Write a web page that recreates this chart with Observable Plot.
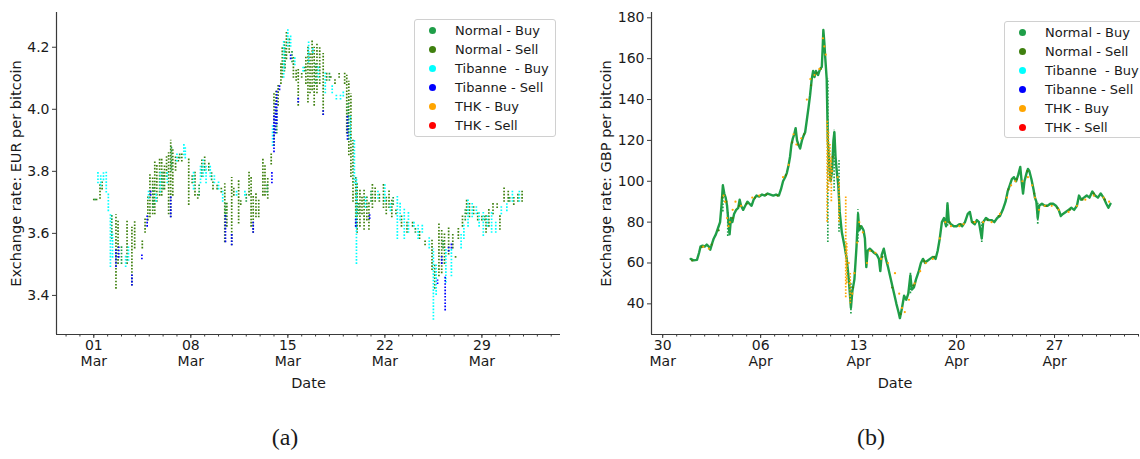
<!DOCTYPE html>
<html>
<head>
<meta charset="utf-8">
<script src="https://cdn.jsdelivr.net/npm/d3@7"></script>
<script src="https://cdn.jsdelivr.net/npm/@observablehq/plot@0.6"></script>
<style>
  body { margin: 0; background: #fff; }
  #wrap { position: relative; width: 1140px; height: 459px; overflow: hidden; font-family: "DejaVu Sans", sans-serif; color: #1a1a1a; }
  .panel { position: absolute; top: 0; }
  .legend { position: absolute; background: #fff; border: 1px solid #d0d0d0; border-radius: 3px; box-sizing: border-box; }
  .legend .row { position: absolute; left: 0; height: 19px; font-size: 13px; line-height: 19px; white-space: pre; }
  .legend .mk { position: absolute; width: 7px; height: 7px; border-radius: 50%; top: 6px; }
  .legend .lb { position: absolute; top: 0; }
  .cap { position: absolute; font-family: "Liberation Serif", "DejaVu Serif", serif; font-size: 24px; top: 424px; transform: translateX(-50%); }
</style>
</head>
<body>
<div id="wrap">
  <div id="pa" class="panel" style="left:0"></div>
  <div id="pb" class="panel" style="left:570px"></div>
  <div id="la" class="legend" style="left:414px;top:19px;width:142px;height:118px"></div>
  <div id="lb" class="legend" style="left:1004px;top:21px;width:150px;height:117px"></div>
  <div class="cap" style="left:285px">(a)</div>
  <div class="cap" style="left:871px">(b)</div>
</div>
<script>
// ---------- categories & colours ----------
const seriesNames = ["Normal - Buy", "Normal - Sell", "Tibanne  - Buy", "Tibanne - Sell", "THK - Buy", "THK - Sell"];
const seriesColors = ["#1f9e48", "#3f800f", "#00ffff", "#0000ff", "#ffa500", "#ff0000"];

// ---------- panel (a): EUR per bitcoin, columns [day since 01 Mar, low, high] ----------
const yTicksA = [3.4, 3.6, 3.8, 4.0, 4.2];
const normalSellA = [[0.0,3.705,3.715],[0.2,3.705,3.715],[0.45,3.71,3.76],[0.6,3.74,3.77],[1.6,3.42,3.66],[1.75,3.50,3.64],[2.4,3.50,3.64],[2.75,3.43,3.62],[2.95,3.55,3.64],[3.5,3.55,3.58],[3.7,3.60,3.65],[3.9,3.64,3.72],[4.05,3.65,3.79],[4.25,3.66,3.78],[4.4,3.66,3.83],[4.55,3.70,3.82],[4.75,3.72,3.84],[4.9,3.72,3.84],[5.1,3.74,3.82],[5.25,3.78,3.85],[5.4,3.66,3.86],[5.55,3.65,3.90],[5.7,3.72,3.87],[5.9,3.80,3.85],[6.1,3.83,3.85],[6.35,3.83,3.86],[6.85,3.69,3.84],[7.1,3.76,3.79],[7.3,3.72,3.80],[7.5,3.71,3.73],[7.8,3.78,3.84],[8.0,3.80,3.85],[8.3,3.80,3.83],[8.6,3.74,3.77],[8.9,3.74,3.76],[9.2,3.73,3.75],[9.45,3.57,3.76],[9.6,3.62,3.70],[9.95,3.56,3.78],[10.1,3.72,3.75],[10.45,3.63,3.77],[10.6,3.69,3.71],[11.2,3.72,3.80],[11.35,3.62,3.78],[11.5,3.60,3.72],[11.7,3.65,3.73],[11.9,3.65,3.71],[12.2,3.72,3.84],[12.35,3.72,3.82],[12.55,3.71,3.78],[12.8,3.82,3.86],[13.0,3.88,4.05],[13.15,3.95,4.06],[13.3,4.01,4.08],[13.5,4.08,4.15],[13.6,4.10,4.20],[13.75,4.12,4.22],[13.9,4.16,4.25],[14.1,4.18,4.23],[14.4,4.10,4.17],[14.6,4.09,4.13],[14.75,4.01,4.13],[15.0,4.10,4.12],[15.3,4.08,4.17],[15.45,4.02,4.20],[15.6,4.05,4.18],[15.75,4.06,4.22],[15.9,4.01,4.20],[16.1,4.05,4.21],[16.3,4.08,4.20],[16.55,3.98,4.18],[16.8,4.09,4.12],[17.1,4.10,4.11],[17.4,4.08,4.10],[17.7,4.10,4.12],[18.1,4.08,4.12],[18.25,3.92,4.11],[18.4,3.85,4.09],[18.55,3.78,4.05],[18.7,3.70,3.90],[18.9,3.62,3.78],[19.0,3.60,3.76],[19.2,3.62,3.74],[19.35,3.66,3.72],[19.5,3.61,3.74],[19.7,3.64,3.72],[19.85,3.61,3.70],[20.1,3.68,3.76],[20.3,3.70,3.75],[20.6,3.70,3.73],[20.9,3.68,3.76],[21.1,3.66,3.72],[21.3,3.68,3.74],[21.5,3.65,3.71],[21.8,3.66,3.68],[22.2,3.62,3.66],[22.6,3.60,3.64],[23.0,3.62,3.64],[23.5,3.58,3.61],[23.9,3.56,3.58],[24.4,3.48,3.58],[24.6,3.42,3.50],[24.9,3.46,3.63],[25.1,3.47,3.61],[25.3,3.50,3.60],[25.6,3.53,3.62],[25.9,3.55,3.60],[26.1,3.52,3.53],[26.3,3.58,3.62],[26.6,3.62,3.66],[26.9,3.66,3.71],[27.1,3.65,3.70],[27.4,3.66,3.69],[27.7,3.64,3.67],[28.0,3.64,3.66],[28.3,3.60,3.66],[28.5,3.62,3.68],[28.8,3.66,3.70],[29.1,3.68,3.70],[29.3,3.61,3.66],[29.6,3.70,3.75],[29.9,3.70,3.74],[30.3,3.69,3.72],[30.6,3.70,3.73],[30.9,3.70,3.74]];
const normalBuyA = [[0.1,3.705,3.715],[1.3,3.58,3.66],[2.0,3.50,3.56],[4.3,3.68,3.75],[5.0,3.74,3.80],[5.6,3.80,3.88],[6.2,3.84,3.86],[7.6,3.72,3.76],[8.5,3.77,3.80],[9.5,3.65,3.70],[11.0,3.70,3.73],[12.5,3.73,3.76],[13.2,3.92,4.00],[13.8,4.13,4.20],[14.3,4.15,4.19],[15.2,4.12,4.14],[16.0,4.08,4.15],[17.0,4.09,4.12],[18.35,3.90,4.02],[19.1,3.66,3.70],[20.0,3.70,3.74],[21.6,3.69,3.72],[23.2,3.60,3.62],[25.2,3.55,3.58],[26.8,3.64,3.68],[28.2,3.64,3.66],[30.0,3.70,3.72]];
const tibanneBuyA = [[0.3,3.76,3.80],[0.5,3.75,3.79],[0.7,3.77,3.80],[0.9,3.73,3.80],[1.05,3.67,3.73],[1.2,3.49,3.66],[1.35,3.52,3.60],[2.3,3.49,3.53],[2.5,3.51,3.56],[3.95,3.71,3.74],[4.5,3.70,3.73],[4.8,3.73,3.80],[5.3,3.76,3.80],[6.0,3.83,3.86],[6.5,3.85,3.89],[6.6,3.84,3.88],[7.2,3.74,3.80],[7.7,3.76,3.82],[7.9,3.78,3.84],[8.1,3.76,3.82],[8.4,3.78,3.82],[8.7,3.76,3.79],[9.0,3.74,3.77],[9.3,3.70,3.74],[10.3,3.72,3.74],[10.9,3.72,3.74],[12.9,3.88,3.95],[13.7,4.10,4.22],[14.0,4.20,4.26],[14.2,4.20,4.24],[14.5,4.14,4.17],[15.1,4.12,4.14],[15.5,4.15,4.22],[15.8,4.18,4.20],[16.2,4.10,4.14],[16.7,4.05,4.12],[17.2,4.05,4.08],[17.5,4.03,4.05],[17.8,4.03,4.05],[18.0,4.04,4.06],[18.5,3.90,3.98],[18.8,3.76,3.90],[18.95,3.50,3.78],[19.6,3.68,3.72],[20.5,3.71,3.74],[21.0,3.70,3.76],[21.4,3.67,3.70],[21.9,3.58,3.72],[22.1,3.64,3.70],[22.4,3.58,3.68],[22.7,3.60,3.67],[23.1,3.62,3.64],[23.4,3.58,3.63],[23.7,3.60,3.63],[24.2,3.55,3.59],[24.5,3.32,3.55],[24.7,3.40,3.50],[25.4,3.44,3.55],[25.8,3.46,3.55],[26.5,3.55,3.60],[26.7,3.58,3.63],[27.0,3.62,3.71],[27.3,3.65,3.70],[27.6,3.66,3.69],[27.8,3.62,3.67],[28.1,3.59,3.67],[28.4,3.62,3.66],[28.7,3.60,3.67],[29.0,3.60,3.64],[29.4,3.66,3.69],[29.8,3.67,3.70],[30.2,3.70,3.74],[30.7,3.70,3.74]];
const tibanneSellA = [[1.6,3.49,3.55],[1.8,3.52,3.56],[2.75,3.43,3.47],[3.47,3.515,3.53],[3.85,3.62,3.66],[4.1,3.72,3.74],[5.55,3.65,3.72],[9.5,3.57,3.66],[9.95,3.56,3.60],[11.5,3.60,3.64],[12.85,3.76,3.80],[13.0,3.86,3.98],[13.1,3.92,4.02],[13.2,3.95,4.06],[13.4,4.06,4.08],[14.2,4.16,4.175],[14.75,4.02,4.04],[16.55,3.98,4.00],[18.3,3.90,3.98],[18.9,3.62,3.65],[19.9,3.645,3.66],[24.8,3.435,3.45],[25.1,3.50,3.53],[25.35,3.35,3.46],[25.6,3.54,3.56],[25.8,3.55,3.57]];

// ---------- panel (b): GBP per bitcoin, [day since 30 Mar, value] ----------
const yTicksB = [40, 60, 80, 100, 120, 140, 160, 180];
const normalBuyB = [[2.0,62],[2.2,61.3],[2.45,61.5],[2.6,65],[2.7,68],[2.85,68.5],[3.0,68],[3.15,69],[3.3,68],[3.4,66.5],[3.55,70],[3.65,72],[3.8,74],[3.95,77],[4.1,80],[4.2,88],[4.3,98],[4.4,94],[4.5,92],[4.6,88],[4.7,80],[4.78,74],[4.88,82],[4.98,80],[5.1,84],[5.25,86],[5.4,87],[5.5,91],[5.6,88],[5.75,86],[5.9,88],[6.05,90],[6.2,89],[6.35,88],[6.5,91],[6.7,93],[6.9,92.5],[7.1,93.5],[7.3,93],[7.5,94],[7.7,93.5],[7.9,93],[8.1,93.5],[8.3,93],[8.45,96],[8.6,100],[8.75,102],[8.87,104],[9.0,108],[9.1,112],[9.2,118],[9.3,121],[9.4,123],[9.5,126],[9.6,120],[9.7,118],[9.82,116],[9.95,120],[10.05,122],[10.18,124],[10.3,130],[10.42,136],[10.53,142],[10.65,150],[10.75,154],[10.85,151],[10.95,154],[11.1,152],[11.25,155],[11.37,156],[11.43,165],[11.48,174],[11.55,168],[11.62,160],[11.72,150],[11.8,120],[11.9,108],[12.0,100],[12.1,105],[12.2,120],[12.27,124],[12.35,112],[12.45,104],[12.55,98],[12.65,85],[12.8,75],[13.0,68],[13.15,62],[13.3,52],[13.45,38],[13.55,46],[13.7,52],[13.85,68],[13.96,84],[14.05,76],[14.2,78],[14.35,76],[14.45,72],[14.55,58],[14.65,66],[14.8,67],[14.95,66],[15.1,65],[15.3,64],[15.45,62],[15.55,56],[15.65,64],[15.8,67],[15.95,62],[16.1,58],[16.3,52],[16.5,46],[16.7,40],[16.85,36],[16.95,33],[17.1,38],[17.25,44],[17.4,42],[17.55,45],[17.7,54],[17.8,47],[17.95,48],[18.1,52],[18.3,56],[18.45,60],[18.6,62],[18.75,60],[18.9,61],[19.1,62],[19.3,63],[19.5,62],[19.65,66],[19.8,72],[19.95,80],[20.1,82],[20.25,78],[20.35,89],[20.45,80],[20.6,79],[20.8,78],[21.0,78],[21.2,79],[21.4,78],[21.6,80],[21.8,84],[21.95,85],[22.1,80],[22.3,79],[22.45,81],[22.6,80],[22.8,72],[22.9,80],[23.1,82],[23.3,81],[23.5,81],[23.7,80],[23.9,82],[24.1,83],[24.3,86],[24.5,90],[24.65,95],[24.8,98],[24.95,101],[25.1,102],[25.25,100],[25.4,103],[25.55,107],[25.65,100],[25.75,94],[25.85,100],[26.0,104],[26.1,106],[26.2,105],[26.35,101],[26.5,96],[26.6,92],[26.7,90],[26.8,82],[26.9,88],[27.1,89],[27.3,88],[27.5,88],[27.7,89],[27.9,89],[28.1,88],[28.3,86],[28.45,83],[28.6,84],[28.8,85],[29.0,86],[29.2,87],[29.4,86],[29.6,88],[29.75,93],[29.9,91],[30.1,92],[30.3,93],[30.5,92],[30.7,95],[30.9,93],[31.1,92],[31.3,94],[31.5,92],[31.7,89],[31.85,87],[32.0,89]];
const normalBuyColsB = [[4.3,85,99],[4.65,73,85],[11.8,70,150],[12.25,95,125],[12.6,75,110],[13.45,35,50],[13.95,70,86],[17.7,45,55],[20.35,78,89.5],[22.8,70,80],[26.8,79,90]];
const normalSellB = [[2.1,61.2],[2.8,67.8],[3.5,69],[4.0,76],[4.25,92],[4.55,90],[5.0,82],[5.45,88],[6.0,89],[6.6,92],[7.4,93.5],[8.2,93],[8.8,103],[9.25,119],[9.65,118],[10.1,123],[10.6,147],[11.0,153],[11.3,155],[12.15,112],[13.6,48],[14.1,78],[14.9,66],[15.7,63],[16.4,48],[17.0,35],[17.9,49],[18.7,61],[19.4,63],[20.5,80],[21.3,79],[22.2,80],[23.2,81],[24.0,83],[24.7,96],[25.3,101],[26.05,105],[26.55,94],[27.4,88],[28.2,87],[29.1,86],[30.0,91],[30.8,94],[31.6,91]];
const thkBuyB = [[2.9,68],[3.3,67],[4.35,93],[4.45,90],[4.6,82],[4.7,78],[4.8,80],[5.0,86],[5.2,90],[5.6,88],[6.4,92],[6.9,93],[8.6,102],[9.0,108],[9.35,123],[9.55,118],[9.9,121],[10.3,140],[10.55,150],[10.85,152],[11.2,155],[11.45,170],[11.55,166],[11.65,162],[12.0,110],[12.1,105],[12.5,102],[13.3,60],[13.35,50],[13.55,45],[13.7,55],[13.9,70],[14.05,80],[14.3,75],[14.6,60],[14.8,66],[15.2,65],[15.6,62],[16.1,60],[16.6,55],[16.9,45],[17.1,38],[17.3,36],[17.6,42],[18.0,50],[18.4,56],[18.8,60],[19.3,62],[19.8,72],[20.2,80],[20.6,78],[21.2,78],[21.5,79],[22.3,80],[22.9,80],[23.5,80],[24.1,84],[24.6,92],[24.9,98],[25.2,100],[25.7,100],[26.1,102],[26.4,98],[26.6,92],[26.9,86],[27.3,88],[27.8,88],[28.3,86],[29.0,85],[29.6,88],[30.2,91],[30.8,93],[31.5,92],[31.9,90]];
const thkBuyColsB = [[11.75,80,130],[11.85,95,125],[11.95,100,118],[12.05,90,112],[12.6,80,100],[13.08,43,93],[13.15,50,70],[13.4,40,55]];

// ---------- helpers ----------
const DAY = 864e5;
const baseA = Date.UTC(2012, 2, 1);
const baseB = Date.UTC(2013, 2, 30);
const dA = d => new Date(baseA + d * DAY);
const dB = d => new Date(baseB + d * DAY);
const fmtDay = d3.utcFormat("%d");
const fmtMon = d3.utcFormat("%b");
const AX = "#3a3a3a";
const dash = "1.6,1.6";

function axes(xDomain, yDomain, majors, minors, yTicks, yLabel, yFmt, yLabelOffset) {
  return [
    Plot.ruleX([xDomain[0]], {stroke: AX, strokeWidth: 1.2}),
    Plot.ruleY([yDomain[0]], {stroke: AX, strokeWidth: 1.2}),
    Plot.axisY({ticks: yTicks, tickFormat: yFmt, tickSize: 4, tickPadding: 3, stroke: AX, fontSize: 14, label: null}),
    Plot.axisY({ticks: [], tickSize: 0, label: yLabel, labelAnchor: "center", labelOffset: yLabelOffset, labelArrow: "none", fontSize: 14.5}),
    Plot.axisX({ticks: minors, tickSize: 2.5, tickFormat: () => "", stroke: AX, label: null}),
    Plot.axisX({ticks: majors, tickSize: 4, tickPadding: 2, tickFormat: fmtDay, stroke: AX, fontSize: 14, label: null}),
    Plot.axisX({ticks: [], tickSize: 0, label: "Date", labelAnchor: "center", labelOffset: 53, labelArrow: "none", fontSize: 14.5}),
    Plot.axisX({ticks: majors, tickSize: 0, tickPadding: 22, tickFormat: fmtMon, label: null, fontSize: 14})
  ];
}

const style = {fontSize: "14px", fontFamily: "DejaVu Sans, sans-serif", color: "#1a1a1a", background: "transparent", overflow: "visible"};

// ---------- panel a ----------
const xDomA = [dA(-2.69), dA(33.67)];
const yDomA = [3.274, 4.312];
const majorsA = [0, 7, 14, 21, 28].map(dA);
const minorsA = d3.range(-2, 34).map(dA);
const colRule = (data, color, dfn, w = 1.7) => Plot.ruleX(data, {x: d => dfn(d[0]), y1: d => d[1], y2: d => d[2], stroke: color, strokeWidth: w, strokeDasharray: dash});

const chartA = Plot.plot({
  width: 570, height: 400, marginLeft: 56, marginRight: 10, marginTop: 12, marginBottom: 66,
  style,
  x: {type: "utc", domain: xDomA},
  y: {domain: yDomA},
  marks: [
    ...axes(xDomA, yDomA, majorsA, minorsA, yTicksA, "Exchange rate: EUR per bitcoin", d3.format(".1f"), 46),
    colRule(normalSellA, seriesColors[1], dA),
    colRule(normalBuyA, seriesColors[0], dA),
    colRule(tibanneBuyA, seriesColors[2], dA),
    colRule(tibanneSellA, seriesColors[3], dA)
  ]
});
document.getElementById("pa").appendChild(chartA);

// ---------- panel b ----------
const xDomB = [dB(-0.8), dB(34)];
const yDomB = [25, 182.6];
const majorsB = [0, 7, 14, 21, 28].map(dB);
const minorsB = d3.range(0, 35).map(dB);

const chartB = Plot.plot({
  width: 570, height: 400, marginLeft: 81, marginRight: 2, marginTop: 12, marginBottom: 66,
  style,
  x: {type: "utc", domain: xDomB},
  y: {domain: yDomB},
  marks: [
    ...axes(xDomB, yDomB, majorsB, minorsB, yTicksB, "Exchange rate: GBP per bitcoin", d3.format("d"), 51),
    Plot.line(normalBuyB, {x: d => dB(d[0]), y: d => d[1], stroke: seriesColors[0], strokeWidth: 2.4}),
    colRule(normalBuyColsB, seriesColors[0], dB),
    Plot.dot(normalSellB, {x: d => dB(d[0]), y: d => d[1], r: 1.1, fill: seriesColors[1]}),
    colRule(thkBuyColsB, seriesColors[4], dB),
    Plot.dot(thkBuyB, {x: d => dB(d[0]), y: d => d[1], r: 1.1, fill: seriesColors[4]})
  ]
});
document.getElementById("pb").appendChild(chartB);

// ---------- legends ----------
function legend(id, firstRow) {
  const el = document.getElementById(id);
  seriesNames.forEach((name, i) => {
    const row = document.createElement("div");
    row.className = "row";
    row.style.top = (firstRow + i * 19 - 9.5) + "px";
    row.style.width = "100%";
    const mk = document.createElement("div");
    mk.className = "mk";
    mk.style.left = "14px";
    mk.style.background = seriesColors[i];
    const lb = document.createElement("div");
    lb.className = "lb";
    lb.style.left = "40px";
    lb.textContent = name;
    row.appendChild(mk); row.appendChild(lb);
    el.appendChild(row);
  });
}
legend("la", 10.5);
legend("lb", 10);
</script>
</body>
</html>
